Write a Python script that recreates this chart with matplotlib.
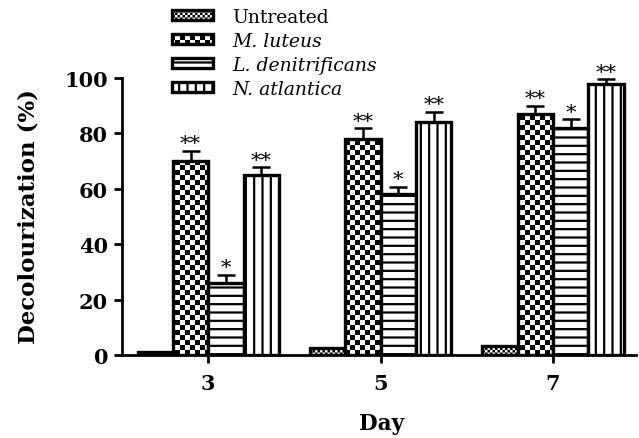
import numpy as np
import matplotlib
matplotlib.use("Agg")
import matplotlib.pyplot as plt
import matplotlib.hatch as mhatch
from matplotlib.path import Path
from matplotlib.patches import Rectangle

HAS_HLW = hasattr(Rectangle((0, 0), 1, 1), 'set_hatch_linewidth')
HATCH_LW = 1.6


# checkerboard hatch, '#' = coarse, '##' = fine
class CheckerHatch(mhatch.HatchPatternBase):
    filled = True

    def __init__(self, hatch, density):
        self.n = 20 * hatch.count('#')
        self.num_vertices = (self.n * self.n // 2) * 5

    def set_vertices_and_codes(self, vertices, codes):
        s = 1.0 / self.n
        # the hatch path also gets stroked; shrink squares to compensate
        m = 0.0 if HAS_HLW else HATCH_LW / 72.0 / 2.0
        k = 0
        for i in range(self.n):
            for j in range(self.n):
                if (i + j) % 2 == 0:
                    x0, y0 = i * s + m, j * s + m
                    d = s - 2 * m
                    vertices[k:k + 5] = [(x0, y0), (x0 + d, y0), (x0 + d, y0 + d),
                                         (x0, y0 + d), (x0, y0)]
                    codes[k:k + 5] = [Path.MOVETO, Path.LINETO, Path.LINETO,
                                      Path.LINETO, Path.CLOSEPOLY]
                    k += 5


mhatch._hatch_types.append(CheckerHatch)

days = ["3", "5", "7"]
groups = ["Untreated", "M. luteus", "L. denitrificans", "N. atlantica"]
untreated = [1.2, 2.5, 3.2]
m_luteus = [70, 78, 87]
l_denitrificans = [26, 58, 82]
n_atlantica = [65, 84, 98]
err_untreated = [0, 0, 0]
err_m_luteus = [3.8, 3.8, 3.0]
err_l_denitrificans = [3.0, 2.8, 3.2]
err_n_atlantica = [2.8, 3.8, 1.5]
stars = [["", "**", "*", "**"], ["", "**", "*", "**"], ["", "**", "*", "**"]]

plt.rcParams['font.family'] = ['DejaVu Serif']
plt.rcParams['hatch.linewidth'] = HATCH_LW

fig = plt.figure(figsize=(6.39, 4.39), dpi=100)
ax = fig.add_axes([0.191, 0.189, 0.804, 0.631])

x = np.arange(len(days))
w = 0.205
series = [untreated, m_luteus, l_denitrificans, n_atlantica]
errs = [err_untreated, err_m_luteus, err_l_denitrificans, err_n_atlantica]
hatches = ['##', '#', '--', '||']
labels_style = ['normal', 'italic', 'italic', 'italic']

handles = []
for k, (vals, e, h) in enumerate(zip(series, errs, hatches)):
    xs = x + (k - 1.5) * w
    bars = ax.bar(xs, vals, w, color='white', edgecolor='black', linewidth=2.4,
                  hatch=h, label=groups[k], zorder=2)
    if h.startswith('#') and HAS_HLW:
        for b in bars:
            b.set_hatch_linewidth(0.01)
    handles.append(bars)
    if any(e):
        ax.errorbar(xs, vals, yerr=[np.zeros(len(e)), e], fmt='none', ecolor='black',
                    elinewidth=1.8, capsize=6.5, capthick=1.8, zorder=3)
    for i in range(len(days)):
        s = stars[i][k]
        if s:
            ax.annotate(s, (xs[i], vals[i] + e[i]), xytext=(0, 1),
                        textcoords='offset points', ha='center', va='baseline',
                        fontsize=15)

ax.set_xlim(-0.5, 2.48)
ax.set_ylim(0, 100)
ax.set_xticks(x)
ax.set_xticklabels(days)
ax.set_yticks([0, 20, 40, 60, 80, 100])
for sp in ['top', 'right']:
    ax.spines[sp].set_visible(False)
for sp in ['left', 'bottom']:
    ax.spines[sp].set_linewidth(2.0)
ax.tick_params(axis='both', width=2.0, length=6, labelsize=15)
ax.tick_params(axis='x', pad=7)
ax.tick_params(axis='y', pad=4)
for t in ax.get_xticklabels() + ax.get_yticklabels():
    t.set_fontweight('bold')

ax.set_ylabel("Decolourization (%)", fontsize=16.5, fontweight='bold')
ax.yaxis.set_label_coords(-0.16, 0.505)
ax.set_xlabel("Day", fontsize=15.5, fontweight='bold')
ax.xaxis.set_label_coords(0.506, -0.205)
ax.xaxis.label.set_va('top')

leg = fig.legend(handles=handles, labels=groups, loc='upper left',
                 bbox_to_anchor=(0.269, 0.98), frameon=False, fontsize=13.5,
                 handlelength=2.2, handleheight=0.5, handletextpad=1.0,
                 labelspacing=0.32, borderpad=0.0, borderaxespad=0.0)
for t, st in zip(leg.get_texts(), labels_style):
    t.set_fontstyle(st)
for p, h in zip(leg.legend_handles, hatches):
    p.set_hatch(h)
    if h.startswith('#') and HAS_HLW:
        p.set_hatch_linewidth(0.01)

fig.savefig("out.png", dpi=100)
